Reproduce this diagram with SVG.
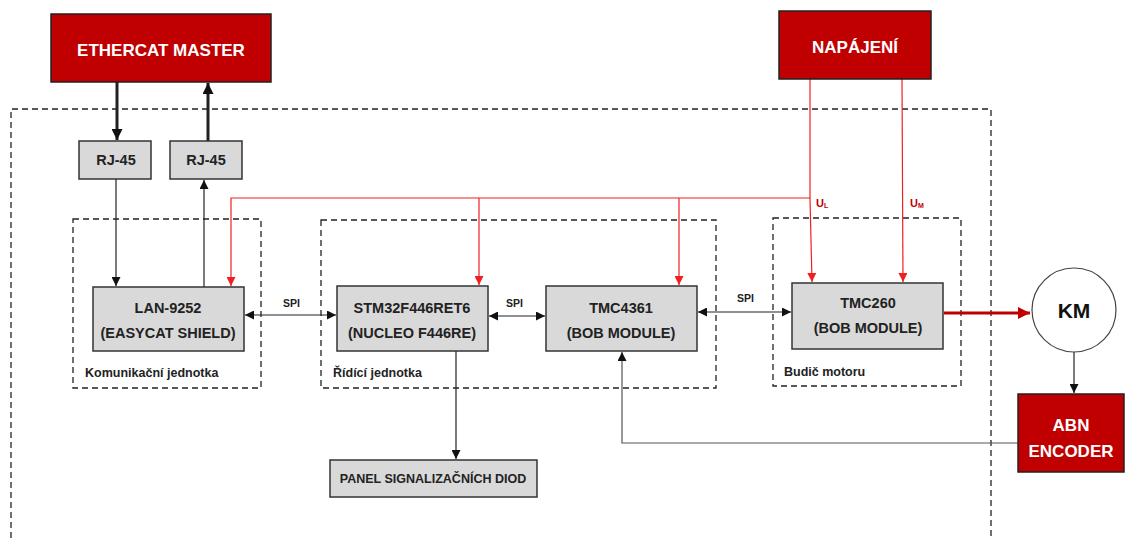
<svg xmlns="http://www.w3.org/2000/svg" width="1125" height="538" viewBox="0 0 1125 538">
<defs>
<style>
.red{fill:#C00000;stroke:#222;stroke-width:1.5}
.gray{fill:#D9D9D9;stroke:#333;stroke-width:1.5}
.dash{fill:none;stroke:#222;stroke-width:1.3;stroke-dasharray:6,4}
.t{font-family:"Liberation Sans",Arial,sans-serif;font-weight:bold;text-anchor:middle}
.wt{fill:#fff;font-size:17px}
.bt{fill:#222;font-size:14.5px}
.lb{fill:#222;font-size:12.5px;text-anchor:start}
.rl{fill:#C00000;font-size:11px;text-anchor:start}
.ln{fill:none;stroke:#222;stroke-width:1.2}
.rln{fill:none;stroke:#F02020;stroke-width:1.2}
</style>
<marker id="ab" viewBox="0 0 10 10" refX="10" refY="5" markerWidth="9" markerHeight="9" markerUnits="userSpaceOnUse" orient="auto-start-reverse"><path d="M0,0 L10,5 L0,10 z" fill="#111"/></marker>
<marker id="abt" viewBox="0 0 10 10" refX="10" refY="5" markerWidth="11" markerHeight="11" markerUnits="userSpaceOnUse" orient="auto"><path d="M0,0 L10,5 L0,10 z" fill="#111"/></marker>
<marker id="ar" viewBox="0 0 10 10" refX="10" refY="5" markerWidth="9" markerHeight="9" markerUnits="userSpaceOnUse" orient="auto"><path d="M0,0 L10,5 L0,10 z" fill="#F02020"/></marker>
<marker id="ard" viewBox="0 0 10 10" refX="10" refY="5" markerWidth="12" markerHeight="12" markerUnits="userSpaceOnUse" orient="auto"><path d="M0,0 L10,5 L0,10 z" fill="#C00000"/></marker>
</defs>
<rect width="1125" height="538" fill="#fff"/>

<g id="outer"><path class="dash" d="M11,538 L11,109 L991,109 L991,538"/></g>
<g id="komunikacni"><rect class="dash" x="73" y="219" width="188" height="169"/><text class="t lb" x="85" y="377">Komunikační jednotka</text></g>
<g id="ridici"><rect class="dash" x="321" y="220" width="395" height="168"/><text class="t lb" x="333" y="377">Řídící jednotka</text></g>
<g id="budic"><rect class="dash" x="773" y="218" width="188" height="168"/><text class="t lb" x="784" y="376">Budič motoru</text></g>

<g id="connectors">
<line class="ln" x1="117" y1="82" x2="117" y2="140" style="stroke-width:3" marker-end="url(#abt)"/>
<line class="ln" x1="208" y1="141" x2="208" y2="83" style="stroke-width:3" marker-end="url(#abt)"/>
<line class="ln" x1="116" y1="179" x2="116" y2="286" marker-end="url(#ab)"/>
<line class="ln" x1="204" y1="287" x2="204" y2="180" marker-end="url(#ab)"/>
<line class="ln" x1="245" y1="315" x2="336" y2="315" marker-start="url(#ab)" marker-end="url(#ab)"/>
<line class="ln" x1="489" y1="316" x2="545" y2="316" marker-start="url(#ab)" marker-end="url(#ab)"/>
<line class="ln" x1="698" y1="312" x2="791" y2="312" marker-start="url(#ab)" marker-end="url(#ab)"/>
<line class="ln" x1="456" y1="351" x2="456" y2="459" marker-end="url(#ab)"/>
<polyline class="ln" points="1018,443 622,443 622,352" style="stroke:#555" marker-end="url(#ab)"/>
<line class="ln" x1="1074" y1="351" x2="1074" y2="393" marker-end="url(#ab)"/>
<polyline class="rln" points="810,79 810,198 231,198 231,286" marker-end="url(#ar)"/>
<line class="rln" x1="479" y1="198" x2="479" y2="285" marker-end="url(#ar)"/>
<line class="rln" x1="679" y1="198" x2="679" y2="285" marker-end="url(#ar)"/>
<line class="rln" x1="810" y1="198" x2="812" y2="282" marker-end="url(#ar)"/>
<line class="rln" x1="902" y1="79" x2="903" y2="282" marker-end="url(#ar)"/>
<line x1="944" y1="313" x2="1030" y2="313" stroke="#C00000" stroke-width="3" marker-end="url(#ard)"/>
<text class="t lb" x="283" y="307" style="font-size:10.5px">SPI</text>
<text class="t lb" x="506" y="307" style="font-size:10.5px">SPI</text>
<text class="t lb" x="737" y="302" style="font-size:10.5px">SPI</text>
<text class="t rl" x="816" y="207">U<tspan font-size="7" dy="1">L</tspan></text>
<text class="t rl" x="910" y="207">U<tspan font-size="7" dy="1">M</tspan></text>
</g>

<g id="ethercat"><rect class="red" x="51" y="14" width="220" height="68"/><text class="t wt" x="161" y="56">ETHERCAT MASTER</text></g>
<g id="napajeni"><rect class="red" x="779" y="11" width="152" height="68"/><text class="t wt" x="855" y="53">NAPÁJENÍ</text></g>
<g id="rj45a"><rect class="gray" x="79" y="141" width="72" height="38"/><text class="t bt" x="116" y="165">RJ-45</text></g>
<g id="rj45b"><rect class="gray" x="170" y="141" width="72" height="38"/><text class="t bt" x="206" y="165">RJ-45</text></g>
<g id="lan"><rect class="gray" x="93" y="287" width="151" height="64"/><text class="t bt" x="168" y="313">LAN-9252</text><text class="t bt" x="168" y="338">(EASYCAT SHIELD)</text></g>
<g id="stm"><rect class="gray" x="337" y="286" width="151" height="65"/><text class="t bt" x="412" y="313">STM32F446RET6</text><text class="t bt" x="412" y="338">(NUCLEO F446RE)</text></g>
<g id="tmc4361"><rect class="gray" x="546" y="286" width="151" height="65"/><text class="t bt" x="621" y="313">TMC4361</text><text class="t bt" x="621" y="338">(BOB MODULE)</text></g>
<g id="tmc260"><rect class="gray" x="792" y="283" width="151" height="66"/><text class="t bt" x="868" y="308">TMC260</text><text class="t bt" x="868" y="333">(BOB MODULE)</text></g>
<g id="panel"><rect class="gray" x="330" y="460" width="207" height="37"/><text class="t bt" x="433" y="483" style="font-size:12.5px">PANEL SIGNALIZAČNÍCH DIOD</text></g>
<g id="km"><circle cx="1074" cy="310" r="42" fill="#fff" stroke="#444" stroke-width="1.2"/><text class="t" x="1074" y="318" style="font-size:21px;fill:#111">KM</text></g>
<g id="abn"><rect class="red" x="1018" y="394" width="106" height="78"/><text class="t wt" x="1071" y="431">ABN</text><text class="t wt" x="1071" y="457">ENCODER</text></g>
</svg>
